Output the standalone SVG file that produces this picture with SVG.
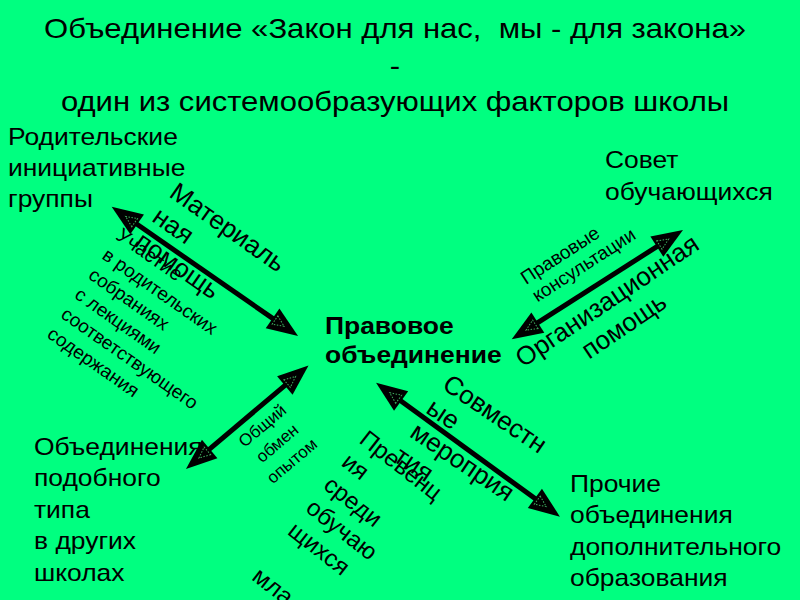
<svg xmlns="http://www.w3.org/2000/svg" width="800" height="600" viewBox="0 0 800 600">
<defs>
<style>
text{font-family:"Liberation Sans",Arial,sans-serif;fill:#000}
.t{font-size:27px;text-anchor:middle}
.n{font-size:23px}
.b{font-weight:bold}
.conn line{stroke:#000;stroke-width:5;marker-start:url(#ah);marker-end:url(#ah)}
.big{font-size:26px}
.sm{font-size:19px}
</style>
<marker id="ah" viewBox="0 -13 32 26" refX="1" refY="0" markerWidth="32" markerHeight="26" markerUnits="userSpaceOnUse" orient="auto-start-reverse" overflow="visible">
<path d="M0,-12 L31,0 L0,12 Z" fill="#000"/>
<path d="M3,-5 L14,0 L3,5 Z" fill="none" stroke="#3fae5f" stroke-width="1" stroke-dasharray="1.5,1.5"/>
</marker>
</defs>
<rect width="800" height="600" fill="#00FF80"/>
<g id="title" transform="translate(395,0) scale(1.15,1)">
<text class="t" y="38" xml:space="preserve">Объединение «Закон для нас,  мы - для закона»</text>
<text class="t" y="75">-</text>
<text class="t" y="111">один из системообразующих факторов школы</text>
</g>
<g id="node-parents" transform="translate(8,0) scale(1.15,1)">
<text class="n" y="145">Родительские</text>
<text class="n" y="176.5">инициативные</text>
<text class="n" y="207">группы</text>
</g>
<g id="node-council" transform="translate(605,0) scale(1.15,1)">
<text class="n" y="168">Совет</text>
<text class="n" y="200">обучающихся</text>
</g>
<g id="node-center" transform="translate(325,0) scale(1.15,1)">
<text class="n b" y="334.5">Правовое</text>
<text class="n b" y="363.5">объединение</text>
</g>
<g id="node-similar" transform="translate(34,0) scale(1.15,1)">
<text class="n" y="455">Объединения</text>
<text class="n" y="486.5">подобного</text>
<text class="n" y="518">типа</text>
<text class="n" y="549.5">в других</text>
<text class="n" y="581">школах</text>
</g>
<g id="node-other" transform="translate(570,0) scale(1.15,1)">
<text class="n" y="492">Прочие</text>
<text class="n" y="523.5">объединения</text>
<text class="n" y="555">дополнительного</text>
<text class="n" y="586.5">образования</text>
</g>
<g id="connectors" class="conn">
<line x1="136.3" y1="223.8" x2="273.4" y2="318.9"/>
<line x1="537" y1="323.2" x2="657.7" y2="246.1"/>
<line x1="400.3" y1="400.4" x2="535.7" y2="499"/>
<line x1="208.9" y1="449.6" x2="285.6" y2="384.9"/>
</g>
<g id="connector-labels">
<g transform="translate(168,196) rotate(35)">
<text class="big" y="0">Материаль</text>
<text class="big" y="30">ная</text>
<text class="big" y="60">помощь</text>
</g>
<g transform="translate(101,258) rotate(35)">
<text style="font-size:20px" y="-24">Участие</text>
<text class="sm" y="0">в родительских</text>
<text class="sm" y="24">собраниях</text>
<text class="sm" y="48">с лекциями</text>
<text class="sm" y="72">соответствующего</text>
<text class="sm" y="96">содержания</text>
</g>
<g transform="translate(526,285) rotate(-33)">
<text class="sm" y="0">Правовые</text>
<text class="sm" y="21">консультации</text>
</g>
<g transform="translate(612,308) rotate(-34)" text-anchor="middle">
<text class="big" y="0">Организационная</text>
<text class="big" y="30">помощь</text>
</g>
<g transform="translate(441,388) rotate(34)">
<text class="big" y="0">Совместн</text>
<text class="big" y="29">ые</text>
<text class="big" y="58">мероприя</text>
<text class="big" y="87">тия</text>
</g>
<g transform="translate(358,442) rotate(38)" style="font-size:24px">
<text y="0">Превенц</text>
<text y="29">ия</text>
<text y="58">среди</text>
<text y="87">обучаю</text>
<text y="116">щихся</text>
<text y="174">мла</text>
</g>
<g transform="translate(266,430) rotate(-40)" text-anchor="middle" style="font-size:17px">
<text y="0">Общий</text>
<text y="23">обмен</text>
<text y="46">опытом</text>
</g>
</g>
</svg>
